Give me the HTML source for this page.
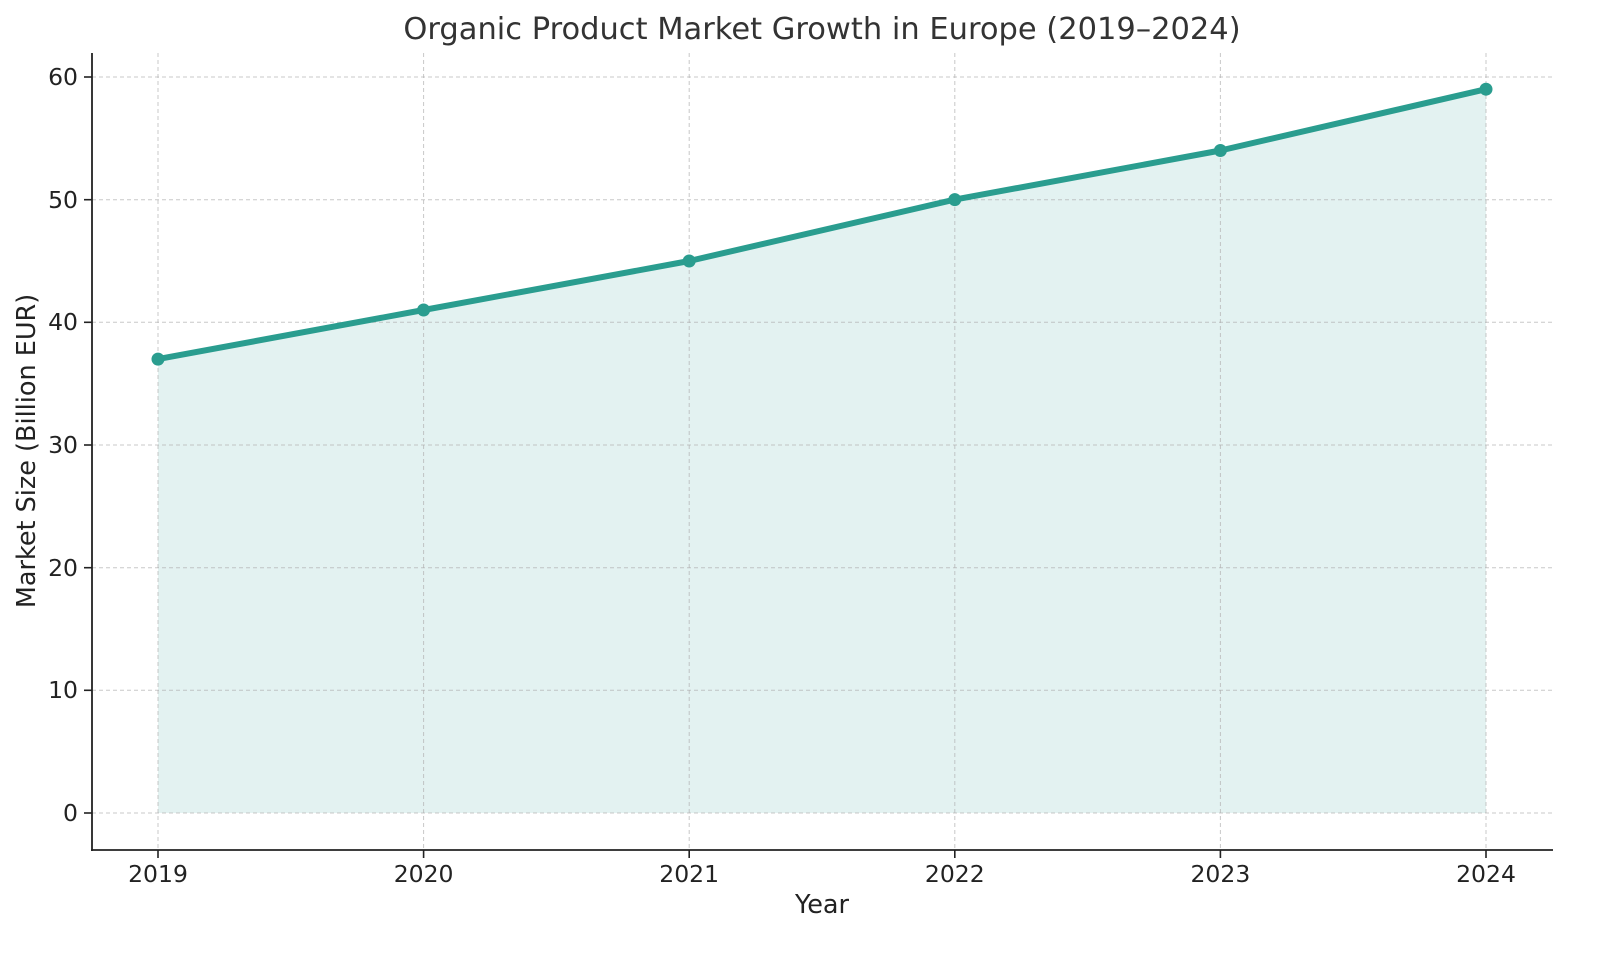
<!DOCTYPE html>
<html><head><style>body{margin:0;background:#fff}svg{display:block}text{font-family:"DejaVu Sans","Liberation Sans",sans-serif}</style></head>
<body>
<svg width="1600" height="954" viewBox="0 0 1600 954" xmlns="http://www.w3.org/2000/svg">
<rect width="1600" height="954" fill="#fff"/>
<polygon points="158,359.1 423.6,310 689.2,261 954.8,199.6 1220.4,150.5 1486,89.2 1486,813 158,813" fill="#2a9d8f" fill-opacity="0.13"/>
<g stroke="#b0b0b0" stroke-opacity="0.7" stroke-width="1" stroke-dasharray="4,3">
<line x1="92" x2="1553" y1="813" y2="813"/><line x1="92" x2="1553" y1="690.3" y2="690.3"/><line x1="92" x2="1553" y1="567.7" y2="567.7"/><line x1="92" x2="1553" y1="445" y2="445"/><line x1="92" x2="1553" y1="322.3" y2="322.3"/><line x1="92" x2="1553" y1="199.7" y2="199.7"/><line x1="92" x2="1553" y1="77" y2="77"/>
<line y1="53" y2="850" x1="158" x2="158"/><line y1="53" y2="850" x1="423.6" x2="423.6"/><line y1="53" y2="850" x1="689.2" x2="689.2"/><line y1="53" y2="850" x1="954.8" x2="954.8"/><line y1="53" y2="850" x1="1220.4" x2="1220.4"/><line y1="53" y2="850" x1="1486" x2="1486"/>
</g>
<polyline points="158,359.1 423.6,310 689.2,261 954.8,199.6 1220.4,150.5 1486,89.2" fill="none" stroke="#2a9d8f" stroke-width="6" stroke-linejoin="round"/>
<g fill="#2a9d8f"><circle cx="158" cy="359.1" r="6.5"/><circle cx="423.6" cy="310" r="6.5"/><circle cx="689.2" cy="261" r="6.5"/><circle cx="954.8" cy="199.6" r="6.5"/><circle cx="1220.4" cy="150.5" r="6.5"/><circle cx="1486" cy="89.2" r="6.5"/></g>
<g stroke="#222" stroke-width="1.8"><line x1="92" y1="53" x2="92" y2="851"/><line x1="91" y1="850" x2="1553" y2="850"/></g>
<g stroke="#222" stroke-width="1.6">
<line x1="84" x2="92" y1="813" y2="813"/><line x1="84" x2="92" y1="690.3" y2="690.3"/><line x1="84" x2="92" y1="567.7" y2="567.7"/><line x1="84" x2="92" y1="445" y2="445"/><line x1="84" x2="92" y1="322.3" y2="322.3"/><line x1="84" x2="92" y1="199.7" y2="199.7"/><line x1="84" x2="92" y1="77" y2="77"/>
<line y1="850" y2="858" x1="158" x2="158"/><line y1="850" y2="858" x1="423.6" x2="423.6"/><line y1="850" y2="858" x1="689.2" x2="689.2"/><line y1="850" y2="858" x1="954.8" x2="954.8"/><line y1="850" y2="858" x1="1220.4" x2="1220.4"/><line y1="850" y2="858" x1="1486" x2="1486"/>
</g>
<g font-size="23.5" fill="#222" text-anchor="end">
<text x="78" y="821">0</text><text x="78" y="698">10</text><text x="78" y="576">20</text><text x="78" y="453">30</text><text x="78" y="330">40</text><text x="78" y="208">50</text><text x="78" y="85">60</text>
</g>
<g font-size="23.5" fill="#222" text-anchor="middle">
<text x="158" y="882">2019</text><text x="423.6" y="882">2020</text><text x="689.2" y="882">2021</text><text x="954.8" y="882">2022</text><text x="1220.4" y="882">2023</text><text x="1486" y="882">2024</text>
<text x="822" y="913" font-size="25.5">Year</text>
<text x="822" y="39" font-size="30.5" fill="#333">Organic Product Market Growth in Europe (2019–2024)</text>
<text transform="translate(35,451) rotate(-90)" font-size="25.5">Market Size (Billion EUR)</text>
</g>
</svg>
</body></html>
